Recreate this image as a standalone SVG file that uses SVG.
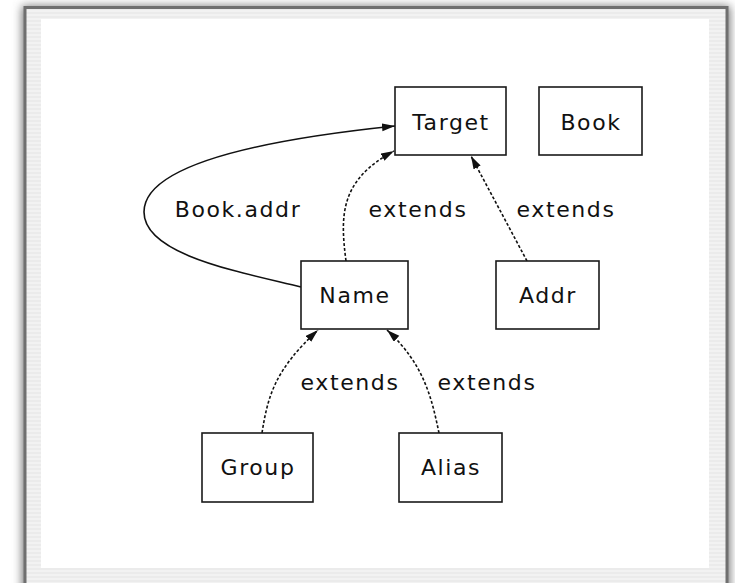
<svg xmlns="http://www.w3.org/2000/svg" width="735" height="583" viewBox="0 0 735 583">
  <defs>
    <filter id="shade" x="-5%" y="-5%" width="110%" height="110%">
      <feGaussianBlur stdDeviation="5"/>
    </filter>
    <pattern id="pinstripe" width="8" height="4" patternUnits="userSpaceOnUse">
      <rect width="8" height="4" fill="#f2f2f2"/>
      <rect width="8" height="2" fill="#ebebeb"/>
    </pattern>
    <marker id="head" markerUnits="userSpaceOnUse" markerWidth="16" markerHeight="10" refX="13" refY="4" orient="auto">
      <path d="M0,0 L13,4 L0,8 z" fill="#111"/>
    </marker>
    <style>
      .node rect { fill: #fff; stroke: #1a1a1a; stroke-width: 1.6; }
      text { font-family: "DejaVu Sans", "Liberation Sans", sans-serif; font-size: 22px; fill: #111; letter-spacing: 1.6px; }
      .node text { text-anchor: middle; }
      .lbl { text-anchor: middle; }
      .edge { fill: none; stroke: #111; stroke-width: 1.6; marker-end: url(#head); }
      .dash { stroke-dasharray: 3 2; }
    </style>
  </defs>

  <!-- window frame with soft shadow -->
  <rect x="22" y="6" width="708" height="600" fill="#777" filter="url(#shade)"/>
  <rect x="25" y="7.5" width="702" height="600" fill="url(#pinstripe)" stroke="#707070" stroke-width="3"/>
  <rect x="41" y="19" width="668" height="549" fill="#fff"/>

  <g id="edges">
    <path class="edge" d="M301,287 C240,272 144,255 144,212 C144,165 260,140 395,126"/>
    <path class="edge dash" d="M346,261 C340,215 340,180 394,151"/>
    <path class="edge dash" d="M527,261 L471,156"/>
    <path class="edge dash" d="M262,433 C268,395 275,370 318,330"/>
    <path class="edge dash" d="M439,433 C432,400 425,365 387,330"/>
    <text class="lbl" x="238" y="217">Book.addr</text>
    <text class="lbl" x="418" y="217">extends</text>
    <text class="lbl" x="566" y="217">extends</text>
    <text class="lbl" x="350" y="390">extends</text>
    <text class="lbl" x="487" y="390">extends</text>
  </g>

  <g id="Target" class="node">
    <rect x="395" y="87" width="111" height="68"/>
    <text x="451" y="130">Target</text>
  </g>
  <g id="Book" class="node">
    <rect x="539" y="87" width="103" height="68"/>
    <text x="591" y="130">Book</text>
  </g>
  <g id="Name" class="node">
    <rect x="301" y="261" width="107" height="68"/>
    <text x="355" y="303">Name</text>
  </g>
  <g id="Addr" class="node">
    <rect x="496" y="261" width="103" height="68"/>
    <text x="548" y="303">Addr</text>
  </g>
  <g id="Group" class="node">
    <rect x="202" y="433" width="111" height="69"/>
    <text x="258" y="475">Group</text>
  </g>
  <g id="Alias" class="node">
    <rect x="399" y="433" width="103" height="69"/>
    <text x="451" y="475">Alias</text>
  </g>
</svg>
